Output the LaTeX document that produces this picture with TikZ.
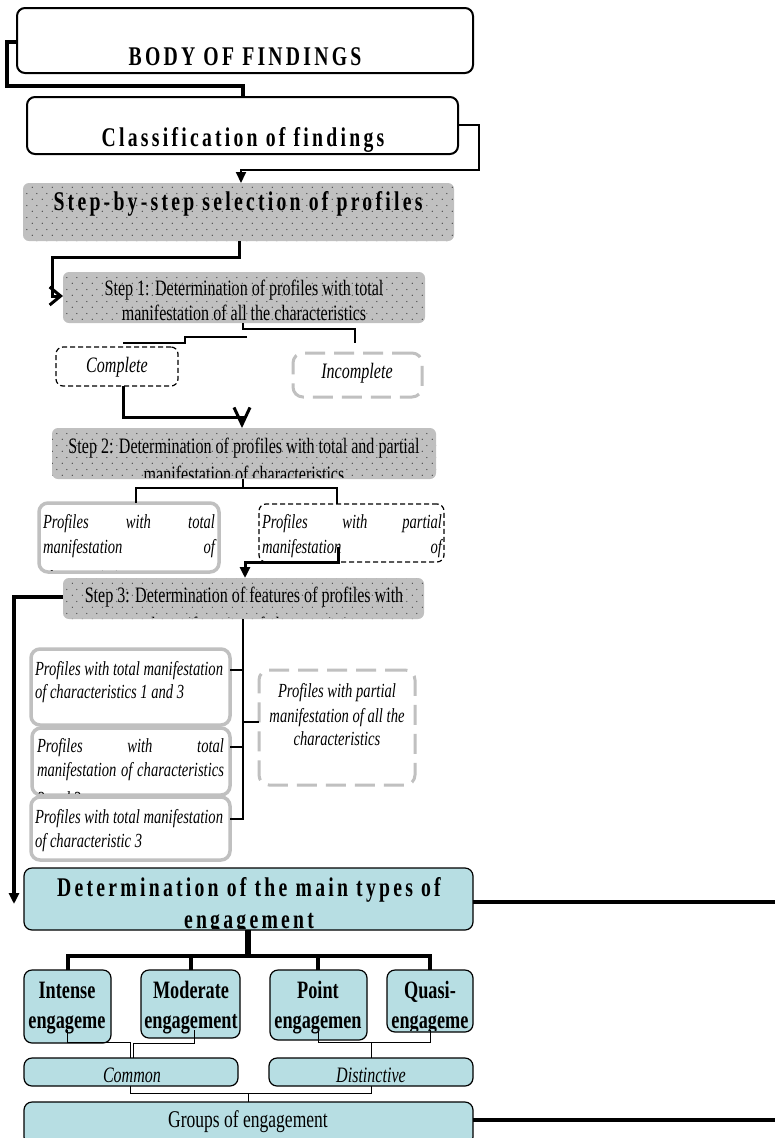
\documentclass[tikz,border=0pt]{standalone}
\usepackage{fontspec}
\setmainfont{Liberation Serif}[FakeStretch=0.73]
\usetikzlibrary{arrows.meta,patterns}
\definecolor{stepgray}{HTML}{C0C0C0}
\definecolor{boxgray}{HTML}{C0C0C0}
\definecolor{aqua}{HTML}{B7DEE3}
\pgfdeclarepatternformonly{mydots}{\pgfpointorigin}{\pgfpoint{10pt}{12pt}}{\pgfpoint{10pt}{12pt}}{%
  \pgfpathcircle{\pgfpoint{2.5pt}{3pt}}{0.65pt}%
  \pgfpathcircle{\pgfpoint{7.5pt}{9pt}}{0.65pt}%
  \pgfusepath{fill}}
\newcommand\mkbox[6]{\node[#1,inner sep=0pt,outer sep=0pt,anchor=north west,minimum width={(#5-#3)*1pt},minimum height={(#6-#4)*1pt}] (#2) at (#3,#4) {};}
\newcommand\clipto[2]{\begin{scope}\clip ([shift={(1.5pt,1.5pt)}]#1.south west) rectangle ([shift={(-1.5pt,-1.5pt)}]#1.north east); #2\end{scope}}
\newcommand\fsn{\fontsize{22pt}{24pt}\selectfont}
\newcommand\fsi{\fontsize{20pt}{23pt}\selectfont\itshape}
\newcommand\fsc{\fontsize{22pt}{24pt}\selectfont\itshape}
\newcommand\fsh{\fontsize{27pt}{29pt}\selectfont\bfseries\addfontfeature{LetterSpace=12}}
\newcommand\fse{\fontsize{25pt}{30pt}\selectfont\bfseries}
\begin{document}
\begin{tikzpicture}[x=1pt,y=-1pt,
  outerbox/.style={draw=black,line width=2pt,rounded corners=8pt,fill=white},
  stepbox/.style={fill=stepgray,rounded corners=6pt,postaction={pattern=mydots,pattern color=black!80}},
  dashblack/.style={draw=black,line width=1.2pt,dash pattern=on 5pt off 3pt,rounded corners=7pt,fill=white},
  dashgray/.style={draw=boxgray,line width=3pt,dash pattern=on 20pt off 9pt,rounded corners=10pt,fill=white},
  graybox/.style={draw=boxgray,line width=3.5pt,rounded corners=9pt,fill=white},
  aquabox/.style={draw=black,fill=aqua,line width=1.2pt,rounded corners=8pt},
  txt/.style={inner sep=0pt,outer sep=0pt,anchor=base},
  txl/.style={inner sep=0pt,outer sep=0pt,anchor=base west},
  wa/.style={line width=1pt},
  wb/.style={line width=2pt},
  wc/.style={line width=3pt},
  wd/.style={line width=4pt},
  tri/.style={-{Triangle[length=11pt,width=10pt]}},
  barb/.style={-{Straight Barb[length=11pt,width=18pt]}}
]
\fill[white] (0,0) rectangle (775,1138);
\useasboundingbox (0,0) rectangle (775,1138);

% ---------- boxes ----------
\mkbox{outerbox}{body}{17}{8}{473}{73}
\mkbox{outerbox}{class}{27}{97}{458}{154}
\mkbox{stepbox}{sbs}{23}{183}{454}{241}
\mkbox{stepbox}{s1}{63}{272}{425}{323}
\mkbox{dashblack}{compl}{56}{347}{178}{386}
\mkbox{dashgray}{incompl}{293}{353}{422}{397}
\mkbox{stepbox}{s2}{52}{428}{436}{479}
\mkbox{graybox}{tot}{39}{503}{219}{572}
\mkbox{dashblack}{par}{259}{504}{444}{562}
\mkbox{stepbox}{s3}{63}{578}{424}{619}
\mkbox{graybox}{pa}{31}{649}{230}{725}
\mkbox{graybox}{pb}{32}{728}{230}{795}
\mkbox{graybox}{pc}{31}{797}{230}{860}
\mkbox{dashgray}{pall}{259}{670}{415}{785}
\mkbox{aquabox}{det}{24}{868}{473}{930}
\mkbox{aquabox}{int}{24}{970}{111}{1043}
\mkbox{aquabox}{mod}{141}{970}{240}{1038}
\mkbox{aquabox}{pnt}{270}{970}{367}{1040}
\mkbox{aquabox}{qua}{387}{970}{473}{1032}
\mkbox{aquabox}{com}{24}{1058}{238}{1086}
\mkbox{aquabox}{dis}{269}{1058}{473}{1086}
\mkbox{aquabox}{grp}{24}{1102}{473}{1145}

% ---------- texts ----------
\clipto{body}{\node[txt] (bodyt) at (245,65) {\fsh BODY OF FINDINGS};}
\clipto{class}{\node[txt] (classt) at (243,146) {\fsh Classification of findings};}
\clipto{sbs}{\node[txt] (sbst) at (238,210) {\fsh Step-by-step selection of profiles};}
\clipto{s1}{\node[txt] (s1a) at (244,295) {\fsn Step 1: Determination of profiles with total};
  \node[txt] (s1b) at (244,320) {\fsn manifestation of all the characteristics};}
\clipto{compl}{\node[txt] (complt) at (117,372) {\fsc Complete};}
\clipto{incompl}{\node[txt] (incomplt) at (357,378) {\fsc Incomplete};}
\clipto{s2}{\node[txt] (s2a) at (244,453) {\fsn Step 2: Determination of profiles with total and partial};
  \node[txt] (s2b) at (244,481) {\fsn manifestation of characteristics};}
\clipto{tot}{\node[txl] (tota) at (43,528) {\fsi\makebox[172pt][s]{Profiles with total}};
  \node[txl] (totb) at (43,553) {\fsi\makebox[172pt][s]{manifestation of}};
  \node[txl] (totc) at (43,584) {\fsi characteristics};}
\clipto{par}{\node[txl] (para) at (262,528) {\fsi\makebox[180pt][s]{Profiles with partial}};
  \node[txl] (parb) at (262,553) {\fsi\makebox[180pt][s]{manifestation of}};
  \node[txl] (parc) at (262,580) {\fsi characteristics};}
\clipto{s3}{\node[txt] (s3a) at (244,602) {\fsn Step 3: Determination of features of profiles with};
  \node[txt] (s3b) at (244,632) {\fsn total manifestation of characteristics};}
\clipto{pa}{\node[txl] (paa) at (35,675) {\fsi Profiles with total manifestation};
  \node[txl] (pab) at (35,698) {\fsi of characteristics 1 and 3};}
\clipto{pb}{\node[txl] (pba) at (37,752) {\fsi\makebox[187pt][s]{Profiles with total}};
  \node[txl] (pbb) at (37,776) {\fsi\makebox[187pt][s]{manifestation of characteristics}};
  \node[txl] (pbc) at (37,805) {\fsi 2 and 3};}
\clipto{pc}{\node[txl] (pca) at (35,823) {\fsi Profiles with total manifestation};
  \node[txl] (pcb) at (35,847) {\fsi of characteristic 3};}
\clipto{pall}{\node[txt] (palla) at (337,697) {\fsi Profiles with partial};
  \node[txt] (pallb) at (337,722) {\fsi manifestation of all the};
  \node[txt] (pallc) at (337,745) {\fsi characteristics};}
\clipto{det}{\node[txt] (deta) at (249,896) {\fsh Determination of the main types of};
  \node[txt] (detb) at (249,928) {\fsh engagement};}
\clipto{int}{\node[txt] (inta) at (67,998) {\fse Intense};
  \node[txt] (intb) at (67,1028) {\fse engageme};}
\clipto{mod}{\node[txt] (moda) at (191,998) {\fse Moderate};
  \node[txt] (modb) at (191,1028) {\fse engagement};}
\clipto{pnt}{\node[txt] (pnta) at (318,998) {\fse Point};
  \node[txt] (pntb) at (318,1028) {\fse engagemen};}
\clipto{qua}{\node[txt] (quaa) at (430,998) {\fse Quasi-};
  \node[txt] (quab) at (430,1028) {\fse engageme};}
\clipto{com}{\node[txt] (comt) at (132,1082) {\fsc Common};}
\clipto{dis}{\node[txt] (dist) at (371,1082) {\fsc Distinctive};}
\clipto{grp}{\node[txt] (grpt) at (248,1127) {\fontsize{24pt}{26pt}\selectfont Groups of engagement};}

% ---------- connectors ----------
\draw[wd] (body.west |- 0,42) -- (7,42) |- (class.north |- 0,86) -- (class.north);
\draw[wb,tri] (class.east |- 0,125) -- (479,125) -- (479,170) -- (241,170) -- (sbs.north -| 241,0);
\draw[wc,barb] (sbs.south -| 239,0) -- (239,257) -| (52,296) -- (s1.west |- 0,296);
\draw[wb] (s1.south -| 243,0) -- (243,329) -| (355,343);
\draw[wb] (247,337) -| (185,343) -- (123,343);
\draw[wc,-{Straight Barb[length=17pt,width=16pt]}] (compl.south -| 123,0) |- (242,417) -- (s2.north -| 242,0);
\draw[wb] (s2.south -| 243,0) -- (243,488);
\draw[wb] (tot.north -| 136,0) |- (337,488) -- (par.north -| 337,0);
\draw[wc,tri] (338,547) |- (245,562) -- (s3.north -| 245,0);
\draw[wd,tri] (s3.west |- 0,597) -| (14,904);
\draw[wb] (s3.south -| 243,0) -- (243,820);
\draw[wb] (243,670) -- (pa.east |- 0,670);
\draw[wb] (243,722) -- (pall.west |- 0,722);
\draw[wb] (243,747) -- (pb.east |- 0,747);
\draw[wb] (243,819) -- (pc.east |- 0,819);
\draw[wd] (det.east |- 0,902) -- (775,902);
\draw[line width=6pt] (det.south -| 248,0) -- (248,956);
\draw[wd] (int.north -| 68,0) |- (248,956) -| (qua.north -| 430,0);
\draw[wd] (mod.north -| 191,0) -- (191,956);
\draw[wd] (pnt.north -| 318,0) -- (318,956);
\draw[wa] (67,1030) |- (130,1042) -- (com.north -| 130,0);
\draw[wa] (194,1030) |- (133,1043) -- (com.north -| 133,0);
\draw[wa] (318,1030) |- (371,1042) -- (dis.north -| 371,0);
\draw[wa] (430,1030) |- (371,1042);
\draw[wa] (com.south -| 130,0) |- (371,1093) -- (dis.south -| 371,0);
\draw[wa] (248,1093) -- (grp.north -| 248,0);
\draw[wd] (grp.east |- 0,1120) -- (775,1120);
\end{tikzpicture}
\end{document}
